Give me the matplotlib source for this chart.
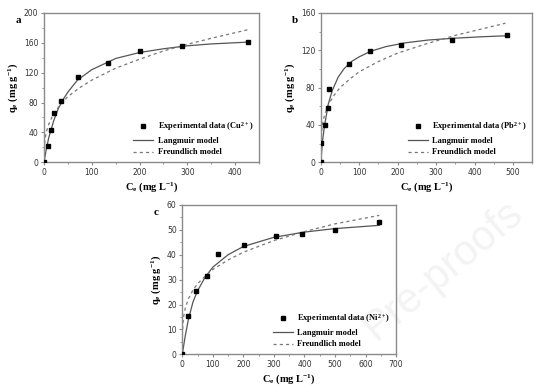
import matplotlib
matplotlib.use("Agg")
import matplotlib.pyplot as plt
from matplotlib.ticker import MultipleLocator

# ---- panel a : Cu2+ ----
cu_ce = [0, 8.4, 15.5, 20.3, 35.6, 72, 134, 200.6, 289, 427]
cu_qe = [0, 21.4, 42.8, 65.6, 82.5, 114.3, 133.4, 149.5, 155.8, 161.6]
cu_lang_x = [0, 5, 10, 20, 30, 40, 50, 70, 100, 150, 200, 250, 300, 350, 430]
cu_lang_y = [0, 18, 33, 55, 72, 84, 94, 110, 124, 139, 147, 152, 156, 158.5, 161]
cu_freu_x = [0, 0.5, 2, 5, 10, 20, 35, 50, 75, 100, 150, 200, 250, 300, 350, 430]
cu_freu_y = [0, 19, 30, 41, 51, 65, 78, 88, 100, 110, 126, 138, 149, 158, 166, 178]

# ---- panel b : Pb2+ ----
pb_ce = [0, 1.7, 10.3, 18, 21.5, 72.6, 127, 208, 340, 483]
pb_qe = [0, 20.7, 40, 58.5, 78.2, 105.4, 119.3, 125.4, 131.4, 136.1]
pb_lang_x = [0, 5, 10, 20, 30, 45, 60, 80, 100, 130, 170, 220, 280, 350, 420, 480]
pb_lang_y = [0, 24, 40, 63, 77, 91, 100, 108, 113, 119, 124, 128, 131, 133, 134.5, 135.5]
pb_freu_x = [0, 0.5, 2, 5, 10, 20, 35, 50, 75, 100, 150, 200, 275, 350, 420, 480]
pb_freu_y = [0, 22, 33, 42, 51, 62, 72, 80, 89, 97, 108, 117, 127, 136, 143, 149]

# ---- panel c : Ni2+ ----
ni_ce = [0, 19.7, 45.9, 81.9, 115.9, 202, 307, 392, 501, 645]
ni_qe = [0, 15.5, 25.3, 31.6, 40.2, 43.9, 47.4, 48.2, 50.1, 53.2]
ni_lang_x = [0, 10, 20, 35, 50, 75, 100, 150, 200, 300, 400, 500, 645]
ni_lang_y = [0, 7.5, 14, 21, 25.5, 31, 35, 40, 43.3, 47, 49.1, 50.5, 51.8]
ni_freu_x = [0, 0.5, 2, 5, 10, 20, 35, 50, 75, 100, 150, 200, 300, 400, 500, 645]
ni_freu_y = [0, 8.4, 12, 15.4, 18.6, 22.3, 25.8, 28.3, 31.4, 34.1, 37.9, 41, 45.7, 49.3, 52.4, 55.8]

panels = [
    ("a", "Cu", cu_ce, cu_qe, cu_lang_x, cu_lang_y, cu_freu_x, cu_freu_y,
     (450, 100, 50), (200, 40, 20), [0.0794, 0.586, 0.388, 0.381]),
    ("b", "Pb", pb_ce, pb_qe, pb_lang_x, pb_lang_y, pb_freu_x, pb_freu_y,
     (550, 100, 50), (160, 40, 20), [0.579, 0.586, 0.382, 0.381]),
    ("c", "Ni", ni_ce, ni_qe, ni_lang_x, ni_lang_y, ni_freu_x, ni_freu_y,
     (700, 100, 50), (60, 10, 5), [0.329, 0.0962, 0.386, 0.381]),
]

serif = ["Liberation Serif", "DejaVu Serif"]
spine_col = "#8a8a8a"
plt.rcParams["mathtext.default"] = "regular"

fig = plt.figure(figsize=(5.54, 3.92), dpi=100)

# faint watermark, kept behind the axes
fig.text(0.80, 0.31, "Pre-proofs", fontsize=30, color="#f3f3f3",
         rotation=40, ha="center", va="center", zorder=-1, family="Liberation Sans")

for (lab, ion, ce, qe, lx, ly, fx, fy, xl, yl, pos) in panels:
    ax = fig.add_axes(pos)
    ax.patch.set_alpha(0)
    ax.plot(ce, qe, "s", color="black", markersize=3.2, linestyle="none",
            label="Experimental data (%s$^{2+}$)" % ion, zorder=3)
    ax.plot(lx, ly, "-", color="#555555", lw=0.9, label="Langmuir model")
    ax.plot(fx, fy, "--", color="#777777", lw=0.9, dashes=(2.5, 2.5),
            label="Freundlich model")
    ax.set_xlim(0, xl[0])
    ax.set_ylim(0, yl[0])
    ax.xaxis.set_major_locator(MultipleLocator(xl[1]))
    ax.xaxis.set_minor_locator(MultipleLocator(xl[2]))
    ax.yaxis.set_major_locator(MultipleLocator(yl[1]))
    ax.yaxis.set_minor_locator(MultipleLocator(yl[2]))
    for s in ax.spines.values():
        s.set_color(spine_col)
        s.set_linewidth(1.0)
    ax.tick_params(which="both", direction="out", color=spine_col,
                   labelsize=5.5, labelcolor="#333333", pad=1.5)
    ax.tick_params(which="major", length=2.5, width=0.8)
    ax.tick_params(which="minor", length=1.5, width=0.6)
    ax.set_xlabel("C$_e$ (mg L$^{-1}$)", fontsize=7.5, fontweight="bold",
                  family=serif, labelpad=2)
    ax.set_ylabel("q$_e$ (mg g$^{-1}$)", fontsize=7.5, fontweight="bold",
                  family=serif, labelpad=3)
    ax.legend(loc="lower right", frameon=False, handlelength=2.4,
              handletextpad=0.5, labelspacing=0.45, borderaxespad=0.3,
              prop={"family": serif, "weight": "bold", "size": 6})
    ax.text(-0.12, 0.95, lab, transform=ax.transAxes, fontsize=8,
            fontweight="bold", family=serif, ha="center", va="center")

fig.savefig("out.png", dpi=100)
